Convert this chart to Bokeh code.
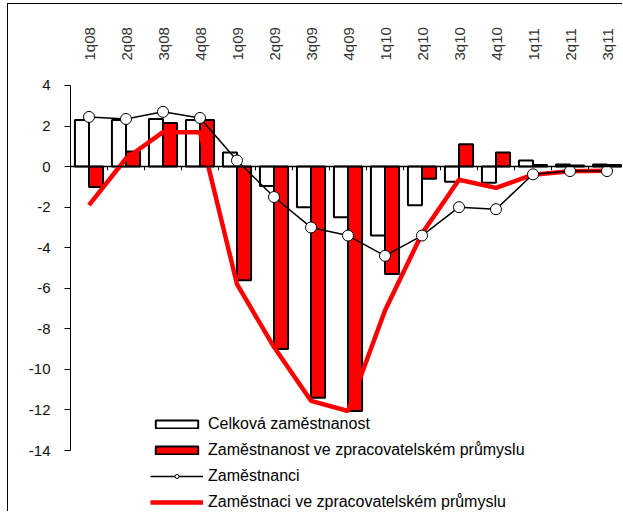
import math
from bokeh.plotting import figure
from bokeh.models import (ColumnDataSource, Range1d, LinearAxis, FixedTicker,
                          Legend, LegendItem, Span)
from bokeh.transform import dodge
from bokeh.embed import file_html
from bokeh.resources import INLINE

categories = ["1q08", "2q08", "3q08", "4q08", "1q09", "2q09", "3q09", "4q09",
              "1q10", "2q10", "3q10", "4q10", "1q11", "2q11", "3q11"]
celkova_zamestnanost = [2.3, 2.3, 2.35, 2.3, 0.7, -0.95, -2.0, -2.5,
                        -3.4, -1.9, -0.75, -0.8, 0.3, 0.1, 0.1]
zamestnanost_zprac = [-1.0, 0.75, 2.15, 2.3, -5.6, -9.0, -11.4, -12.05,
                      -5.3, -0.6, 1.1, 0.7, 0.08, 0.05, 0.08]
zamestnanci = [2.45, 2.35, 2.7, 2.4, 0.3, -1.5, -3.0, -3.4,
               -4.4, -3.4, -2.0, -2.1, -0.38, -0.22, -0.22]
zamestnanci_zprac = [-1.9, 0.4, 1.7, 1.7, -5.8, -8.9, -11.55, -12.05,
                     -7.1, -3.3, -0.65, -1.05, -0.4, -0.23, -0.2]
y_ticks = [-14, -12, -10, -8, -6, -4, -2, 0, 2, 4]

labels = ["Celková zaměstnanost",
          "Zaměstnanost ve zpracovatelském průmyslu",
          "Zaměstnanci",
          "Zaměstnaci ve zpracovatelském průmyslu"]

FONT = "Liberation Sans"
RED = "#ff0000"

# page geometry: chart box starts at (7, 3) with a 1px border
BX, BY = 7, 3
W, H = 623 - BX - 1, 512 - BY - 1
FRAME_LEFT, FRAME_TOP = 70, 70          # in page pixels
LEFT, TOP = FRAME_LEFT - BX - 1, FRAME_TOP - BY - 1

xs = list(range(len(categories)))
bounds = [i + 0.5 for i in xs]
src = ColumnDataSource(dict(x=xs, cat=categories, celk=celkova_zamestnanost,
                            zbar=zamestnanost_zprac, zam=zamestnanci,
                            zline=zamestnanci_zprac))

p = figure(width=W, height=H, output_backend="svg", toolbar_location=None,
           x_range=Range1d(-0.5, -0.5 + (623 - FRAME_LEFT) / 37.0),
           y_range=Range1d(-14 - (512 - 450) / 20.28,
                           4 + (85 - FRAME_TOP) / 20.28),
           x_axis_location=None, y_axis_location="left",
           min_border_left=LEFT, min_border_right=0, min_border_top=TOP,
           min_border_bottom=0)
p.styles = {"margin-left": f"{BX}px", "margin-top": f"{BY}px",
            "border-left": "1px solid black", "border-top": "1px solid black"}
p.outline_line_color = None
p.grid.visible = False
p.background_fill_color = "white"
p.border_fill_color = "white"

# y axis
ya = p.yaxis[0]
ya.ticker = FixedTicker(ticks=y_ticks)
ya.bounds = (-14, 4)
ya.major_label_overrides = {t: str(t) for t in y_ticks}
ya.major_tick_out = 6
ya.major_tick_in = 0
ya.minor_tick_out = 0
ya.minor_tick_in = 0
ya.major_label_standoff = 14
ya.axis_line_color = "black"
ya.major_tick_line_color = "black"
ya.major_label_text_color = "#111111"
ya.major_label_text_font = FONT
ya.major_label_text_font_size = "15px"

# category labels on top
xa1 = LinearAxis(ticker=FixedTicker(ticks=xs))
xa1.major_label_overrides = {i: c for i, c in zip(xs, categories)}
xa1.major_label_orientation = math.pi / 2
xa1.axis_line_color = None
xa1.major_tick_line_color = None
xa1.minor_tick_line_color = None
xa1.major_label_standoff = 4
xa1.major_label_text_color = "#333333"
xa1.major_label_text_font = FONT
xa1.major_label_text_font_size = "15px"
p.add_layout(xa1, "above")

r_celk = p.vbar(x=dodge("x", -0.19), top="celk", width=0.38, source=src,
                fill_color="white", line_color="black", line_width=2)
r_zbar = p.vbar(x=dodge("x", 0.19), top="zbar", width=0.38, source=src,
                fill_color=RED, line_color="black", line_width=2)
r_zline = p.line(x="x", y="zline", source=src, line_color=RED, line_width=4.5)
r_zam = p.line(x="x", y="zam", source=src, line_color="black", line_width=1.5)
r_zam_pts = p.scatter(x="x", y="zam", source=src, marker="circle", size=11,
                      fill_color="white", line_color="black", line_width=1)

# zero line with small ticks between categories
p.add_layout(Span(location=0, dimension="width", line_color="black",
                  line_width=1.5))
p.segment(x0=bounds, y0=[0] * len(bounds), x1=bounds,
          y1=[-0.18] * len(bounds), line_color="black", line_width=1)

legend = Legend(items=[
    LegendItem(label=labels[0], renderers=[r_celk]),
    LegendItem(label=labels[1], renderers=[r_zbar]),
    LegendItem(label=labels[2], renderers=[r_zam, r_zam_pts]),
    LegendItem(label=labels[3], renderers=[r_zline]),
], location=(80, 0))
legend.glyph_width = 53
legend.glyph_height = 10
legend.label_height = 20
legend.spacing = 6
legend.padding = 0
legend.margin = 0
legend.label_standoff = 5
legend.border_line_color = None
legend.background_fill_alpha = 0
legend.label_text_font = FONT
legend.label_text_font_size = "16px"
legend.label_text_color = "black"
p.add_layout(legend, "center")

open("out.html", "w").write(file_html(p, INLINE))
